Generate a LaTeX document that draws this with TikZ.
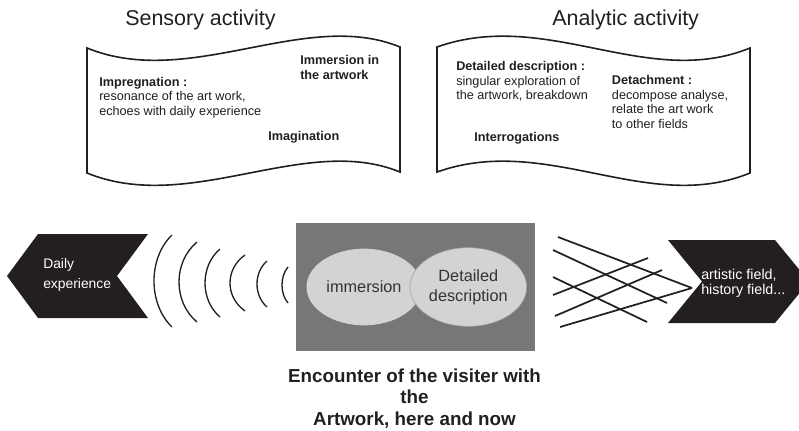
\documentclass[tikz,border=0pt]{standalone}
\usepackage{fontspec}
\setmainfont{Liberation Sans}
\usepackage{xcolor}
\usepackage{tikz}
\usetikzlibrary{shapes.geometric}
\definecolor{inkdark}{HTML}{231F20}
\definecolor{boxgray}{HTML}{777777}
\definecolor{ovalgray}{HTML}{D3D3D3}
\definecolor{ovaltext}{HTML}{333333}
\tikzstyle{banner} = [line width=1.2pt, draw=inkdark, fill=white]
\tikzstyle{title} = [anchor=north west, inner sep=0, text=inkdark, font=\fontsize{16.1}{19}\selectfont]
\tikzstyle{note} = [anchor=north west, inner sep=0, align=left, text=inkdark, font=\fontsize{9.5}{11}\selectfont]
\tikzstyle{keyword} = [note, font=\fontsize{9.5}{11}\selectfont\bfseries]
\tikzstyle{oval} = [ellipse, fill=ovalgray, inner sep=0, align=center, text=ovaltext, font=\fontsize{12.2}{15}\selectfont]
\tikzstyle{tag} = [anchor=north west, inner sep=0, align=left, text=white, font=\fontsize{10.4}{15}\selectfont]
\tikzstyle{wave} = [line width=1pt, draw=inkdark]
\tikzstyle{cross} = [line width=1.3pt, draw=inkdark]

\begin{document}
\begin{tikzpicture}[x=0.75pt, y=-0.75pt]
\useasboundingbox (0,0) rectangle (799,430);

% Titles
\node[title] (sens) at (125,9.6) {Sensory activity};
\node[title] (anal) at (552,9.6) {Analytic activity};

% Sensory banner
\draw[banner] (87,48) .. controls (190,90) and (305,8) .. (400,47) -- (400,172)
  .. controls (305,133) and (190,215) .. (87,173) -- cycle;
\node[keyword] (immart) at (300,55) {Immersion in\\the artwork};
\node[note] (impreg) at (99,76.7) {\textbf{Impregnation :}\\resonance of the art work,\\echoes with daily experience};
\node[keyword] (imagin) at (268,131) {Imagination};

% Analytic banner
\draw[banner] (437,47) .. controls (547,8) and (647,90) .. (750,48) -- (750,173)
  .. controls (647,215) and (547,133) .. (437,172) -- cycle;
\node[note] (detdesc) at (456,61) {\textbf{Detailed description :}\\singular exploration of\\the artwork, breakdown};
\node[note] (detach) at (611.7,75) {\textbf{Detachment :}\\decompose analyse,\\relate the art work\\to other fields};
\node[keyword] (interr) at (474,131.7) {Interrogations};

% Encounter box
\fill[boxgray] (296,223) rectangle (535,351);
\node[oval, minimum width=86.25pt, minimum height=57.5pt] (ovimm) at (364,287) {immersion};
\node[oval, draw=gray!75, line width=0.4pt, minimum width=87.5pt, minimum height=59pt] (ovdet) at (468.3,287) {Detailed\\description};

% Daily experience
\fill[inkdark] (7,276) -- (38,234) -- (148,234) -- (117,276) -- (148,318) -- (38,318) -- cycle;
\node[tag] (daily) at (43,258) {Daily\\experience};

% Echo arcs
\foreach \lx/\tx/\h/\cy in {154/172/46/281, 179/197/40/282, 205/220/34/283, 230/245/28/283, 257/267/23/284, 282/288/18/285}
  \draw[wave] (\tx,{\cy-\h}) .. controls ({(4*\lx-\tx)/3},{\cy-0.5*\h}) and ({(4*\lx-\tx)/3},{\cy+0.5*\h}) .. (\tx,{\cy+\h});

% Other fields
\fill[inkdark] (668,240) -- (775,240) -- (809,281.5) -- (775,323) -- (668,323) -- (702,281.5) -- cycle;
\node[tag, font=\fontsize{10.7}{11.25}\selectfont] (field) at (701,268.5) {artistic field,\\history field...};

% Crossing lines
\coordinate (hub) at (692,288);
\draw[cross] (558,237) -- (hub);
\draw[cross] (553,250) -- (667,303);
\draw[cross] (553,277) -- (647,322);
\draw[cross] (553,295) -- (648,258);
\draw[cross] (555,316) -- (662,270);
\draw[cross] (560,327) -- (hub);

% Caption
\node[anchor=north, inner sep=0, align=center, text=inkdark, font=\fontsize{14.1}{16.1}\selectfont\bfseries] (enc) at (414.5,368.6)
  {Encounter of the visiter with\\the\\Artwork, here and now};
\end{tikzpicture}
\end{document}
